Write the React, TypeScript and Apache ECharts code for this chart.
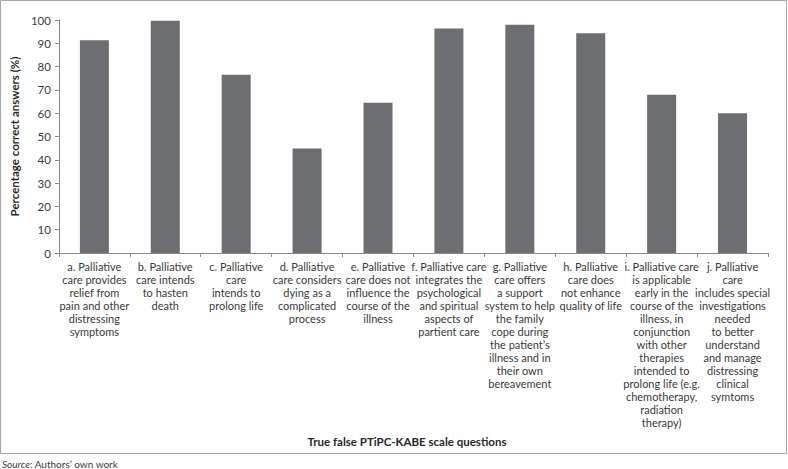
import React, { useEffect, useRef } from "react";
import * as echarts from "echarts";

const categories: string[] = [
  "a. Palliative\ncare provides\nrelief from\npain and other\ndistressing\nsymptoms",
  "b. Palliative\ncare intends\nto hasten\ndeath",
  "c. Palliative\ncare\nintends to\nprolong life",
  "d. Palliative\ncare considers\ndying as a\ncomplicated\nprocess",
  "e. Palliative\ncare does not\ninfluence the\ncourse of the\nillness",
  "f. Palliative care\nintegrates the\npsychological\nand spiritual\naspects of\npartient care",
  "g. Palliative\ncare offers\na support\nsystem to help\nthe family\ncope during\nthe patient\u2019s\nillness and in\ntheir own\nbereavement",
  "h. Palliative\ncare does\nnot enhance\nquality of life",
  "i. Palliative care\nis applicable\nearly in the\ncourse of the\nillness, in\nconjunction\nwith other\ntherapies\nintended to\nprolong life (e.g.\nchemotherapy,\nradiation\ntherapy)",
  "j. Palliative\ncare\nincludes special\ninvestigations\nneeded\nto better\nunderstand\nand manage\ndistressing\nclinical\nsymtoms",
];

const values: number[] = [91.3, 99.7, 76.5, 44.9, 64.5, 96.3, 98.0, 94.3, 67.9, 60.0];

const yAxisTitle = "Percentage correct answers (%)";
const xAxisTitle = "True false PTiPC-KABE scale questions";
const sourceLabel = "Source";
const sourceText = ": Authors\u2019 own work";

const FONT = "Lato, 'Open Sans', sans-serif";

export default function App() {
  const ref = useRef<HTMLDivElement>(null);
  useEffect(() => {
    document.body.style.margin = "0";
    if (!ref.current) return;
    const chart = echarts.init(ref.current, undefined, { renderer: "svg" });
    chart.setOption({
      animation: false,
      backgroundColor: "#ffffff",
      textStyle: { fontFamily: FONT },
      grid: { left: 46, right: 20, top: 20, bottom: 216, containLabel: false },
      xAxis: {
        type: "category",
        data: categories,
        axisLine: { show: true, lineStyle: { color: "#8a8a8a", width: 1 } },
        axisTick: { show: true, length: 4, alignWithLabel: false, lineStyle: { color: "#8a8a8a" } },
        axisLabel: {
          interval: 0,
          margin: 7,
          fontSize: 11,
          lineHeight: 13,
          color: "#3a3a3a",
          fontFamily: FONT,
          align: "center",
        },
      },
      yAxis: {
        type: "value",
        min: 0,
        max: 100,
        interval: 10,
        name: yAxisTitle,
        nameLocation: "middle",
        nameRotate: 90,
        nameGap: 24,
        nameTextStyle: { fontSize: 11.5, fontWeight: "bold", color: "#2a2a2a", fontFamily: FONT },
        axisLine: { show: true, lineStyle: { color: "#8a8a8a", width: 1 } },
        axisTick: { show: true, length: 4, lineStyle: { color: "#8a8a8a" } },
        splitLine: { show: false },
        axisLabel: { fontSize: 11.5, color: "#3a3a3a", margin: 8, fontFamily: FONT },
      },
      series: [
        {
          type: "bar",
          data: values,
          barWidth: 29,
          itemStyle: { color: "#6d6e71" },
        },
      ],
      graphic: [
        {
          type: "rect",
          shape: { x: 0.5, y: 0.5, width: 786, height: 453 },
          style: { fill: "none", stroke: "#a6a6a6", lineWidth: 1 },
          silent: true,
        },
        {
          type: "text",
          x: 407,
          y: 441,
          style: {
            text: xAxisTitle,
            font: `bold 11.5px ${FONT}`,
            fill: "#2a2a2a",
            align: "center",
            verticalAlign: "middle",
          },
        },
        {
          type: "text",
          x: 2,
          y: 464,
          style: {
            text: `{i|${sourceLabel}}{n|${sourceText}}`,
            verticalAlign: "middle",
            rich: {
              i: { fontStyle: "italic", fontSize: 10, fontFamily: FONT, fill: "#3a3a3a" },
              n: { fontSize: 10, fontFamily: FONT, fill: "#3a3a3a" },
            },
          },
        },
      ],
    });
    return () => chart.dispose();
  }, []);
  return <div ref={ref} style={{ width: 788, height: 469 }} />;
}
